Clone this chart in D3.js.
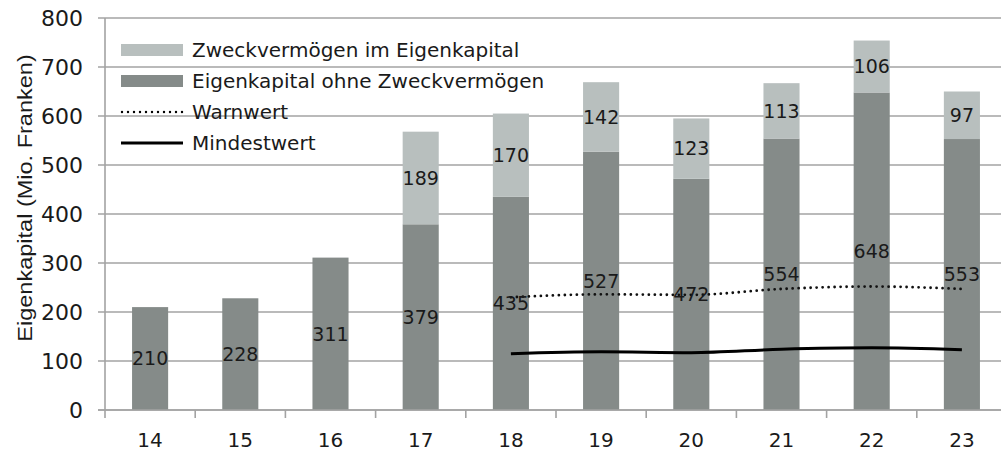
<!DOCTYPE html>
<html>
<head>
<meta charset="utf-8">
<script src="https://cdn.jsdelivr.net/npm/d3@7"></script>
<style>
  body { margin: 0; background: #fff; }
  svg text { font-family: "DejaVu Sans", sans-serif; fill: #1a1a1a; }
</style>
</head>
<body>
<svg id="chart" width="1001" height="451"></svg>
<script>
// values
var years = ["14", "15", "16", "17", "18", "19", "20", "21", "22", "23"]
var ohneZweck = [210, 228, 311, 379, 435, 527, 472, 554, 648, 553]
var zweck = [0, 0, 0, 189, 170, 142, 123, 113, 106, 97]
var lineYears = ["18", "19", "20", "21", "22", "23"]
var warnwert = [230, 236, 235, 247, 252, 247]
var mindestwert = [115, 119, 117, 124, 127, 123]
var yTicks = [0, 100, 200, 300, 400, 500, 600, 700, 800]

var colDark = "#858b89",
    colLight = "#b8bfbe",
    gridCol = "#a3a3a3"

var svg = d3.select("#chart")

var x = d3.scaleBand()
        .domain(years)
        .range([105, 1007])
        .paddingInner(0.6)
        .paddingOuter(0.3)

var y = d3.scaleLinear()
        .domain([0, 800])
        .range([410, 18])

// gridlines
svg.append("g")
        .selectAll("line")
        .data(yTicks)
        .enter()
        .append("line")
        .attr("x1", 98)
        .attr("x2", 1001)
        .attr("y1", function (d) { return y(d) })
        .attr("y2", function (d) { return y(d) })
        .attr("stroke", gridCol)
        .attr("stroke-width", 1.6)

// y axis labels
svg.append("g")
        .selectAll("text")
        .data(yTicks)
        .enter()
        .append("text")
        .attr("x", 83)
        .attr("y", function (d) { return y(d) })
        .attr("dy", "0.36em")
        .attr("text-anchor", "end")
        .style("font-size", "22px")
        .text(function (d) { return d })

svg.append("line")
        .attr("x1", 105).attr("x2", 105)
        .attr("y1", y(800)).attr("y2", y(0))
        .attr("stroke", gridCol).attr("stroke-width", 1.6)

// x axis ticks between categories
var step = x.step()
var edges = d3.range(0, years.length + 1).map(function (i) { return 105 + i * step })
svg.append("g")
        .selectAll("line")
        .data(edges)
        .enter()
        .append("line")
        .attr("x1", function (d) { return d })
        .attr("x2", function (d) { return d })
        .attr("y1", y(0))
        .attr("y2", y(0) + 8)
        .attr("stroke", gridCol)
        .attr("stroke-width", 1.6)

svg.append("g")
        .selectAll("text")
        .data(years)
        .enter()
        .append("text")
        .attr("x", function (d) { return x(d) + x.bandwidth() / 2 })
        .attr("y", 440)
        .attr("dy", "0.36em")
        .attr("text-anchor", "middle")
        .style("font-size", "20px")
        .text(function (d) { return d })

// stacked bars
var rows = years.map(function (yr, i) {
        return { year: yr, low: ohneZweck[i], high: zweck[i] }
})

var bars = svg.append("g")
bars.selectAll("rect.low")
        .data(rows)
        .enter()
        .append("rect")
        .attr("class", "low")
        .attr("x", function (d) { return x(d.year) })
        .attr("width", x.bandwidth())
        .attr("y", function (d) { return y(d.low) })
        .attr("height", function (d) { return y(0) - y(d.low) })
        .attr("fill", colDark)

bars.selectAll("rect.high")
        .data(rows.filter(function (d) { return d.high > 0 }))
        .enter()
        .append("rect")
        .attr("class", "high")
        .attr("x", function (d) { return x(d.year) })
        .attr("width", x.bandwidth())
        .attr("y", function (d) { return y(d.low + d.high) })
        .attr("height", function (d) { return y(d.low) - y(d.low + d.high) })
        .attr("fill", colLight)

// x axis line over the bars
svg.append("line")
        .attr("x1", 98).attr("x2", 1001)
        .attr("y1", y(0)).attr("y2", y(0))
        .attr("stroke", gridCol).attr("stroke-width", 1.6)

// lines
var line = d3.line()
        .x(function (d) { return x(d.year) + x.bandwidth() / 2 })
        .y(function (d) { return y(d.v) })
        .curve(d3.curveMonotoneX)

var warnData = lineYears.map(function (yr, i) { return { year: yr, v: warnwert[i] } })
var minData = lineYears.map(function (yr, i) { return { year: yr, v: mindestwert[i] } })

svg.append("path")
        .datum(warnData)
        .attr("d", line)
        .attr("fill", "none")
        .attr("stroke", "#111")
        .attr("stroke-width", 2.8)
        .attr("stroke-linecap", "round")
        .attr("stroke-dasharray", "0,6")

svg.append("path")
        .datum(minData)
        .attr("d", line)
        .attr("fill", "none")
        .attr("stroke", "#000")
        .attr("stroke-width", 3)

// data labels, centred in each segment
var labels = svg.append("g").style("font-size", "19px")
labels.selectAll("text.low")
        .data(rows)
        .enter()
        .append("text")
        .attr("x", function (d) { return x(d.year) + x.bandwidth() / 2 })
        .attr("y", function (d) { return y(d.low / 2) })
        .attr("dy", "0.36em")
        .attr("text-anchor", "middle")
        .text(function (d) { return d.low })

labels.selectAll("text.high")
        .data(rows.filter(function (d) { return d.high > 0 }))
        .enter()
        .append("text")
        .attr("x", function (d) { return x(d.year) + x.bandwidth() / 2 })
        .attr("y", function (d) { return y(d.low + d.high / 2) })
        .attr("dy", "0.36em")
        .attr("text-anchor", "middle")
        .text(function (d) { return d.high })

// y axis title
svg.append("text")
        .attr("transform", "translate(24,198) rotate(-90) scale(1.12,1)")
        .attr("text-anchor", "middle")
        .attr("dy", "0.36em")
        .style("font-family", "'Liberation Sans', sans-serif")
        .style("font-size", "21px")
        .text("Eigenkapital (Mio. Franken)")

// legend
var legendItems = [
        { name: "Zweckvermögen im Eigenkapital", type: "rect", color: colLight },
        { name: "Eigenkapital ohne Zweckvermögen", type: "rect", color: colDark },
        { name: "Warnwert", type: "dot" },
        { name: "Mindestwert", type: "line" }
]
var legend = svg.append("g")
        .selectAll("g")
        .data(legendItems)
        .enter()
        .append("g")
        .attr("transform", function (d, i) { return "translate(121," + (50 + i * 31) + ")" })

legend.filter(function (d) { return d.type === "rect" })
        .append("rect")
        .attr("x", 0).attr("y", -6)
        .attr("width", 62).attr("height", 12)
        .attr("fill", function (d) { return d.color })

legend.filter(function (d) { return d.type !== "rect" })
        .append("line")
        .attr("x1", function (d) { return d.type === "dot" ? 1 : 0 })
        .attr("x2", 62)
        .attr("y1", 0).attr("y2", 0)
        .attr("stroke", "#000")
        .attr("stroke-width", function (d) { return d.type === "dot" ? 2.4 : 3 })
        .attr("stroke-linecap", function (d) { return d.type === "dot" ? "round" : "butt" })
        .attr("stroke-dasharray", function (d) { return d.type === "dot" ? "0,6" : null })

legend.append("text")
        .attr("x", 71)
        .attr("y", 0)
        .attr("dy", "0.36em")
        .style("font-size", "20px")
        .text(function (d) { return d.name })
</script>
</body>
</html>
